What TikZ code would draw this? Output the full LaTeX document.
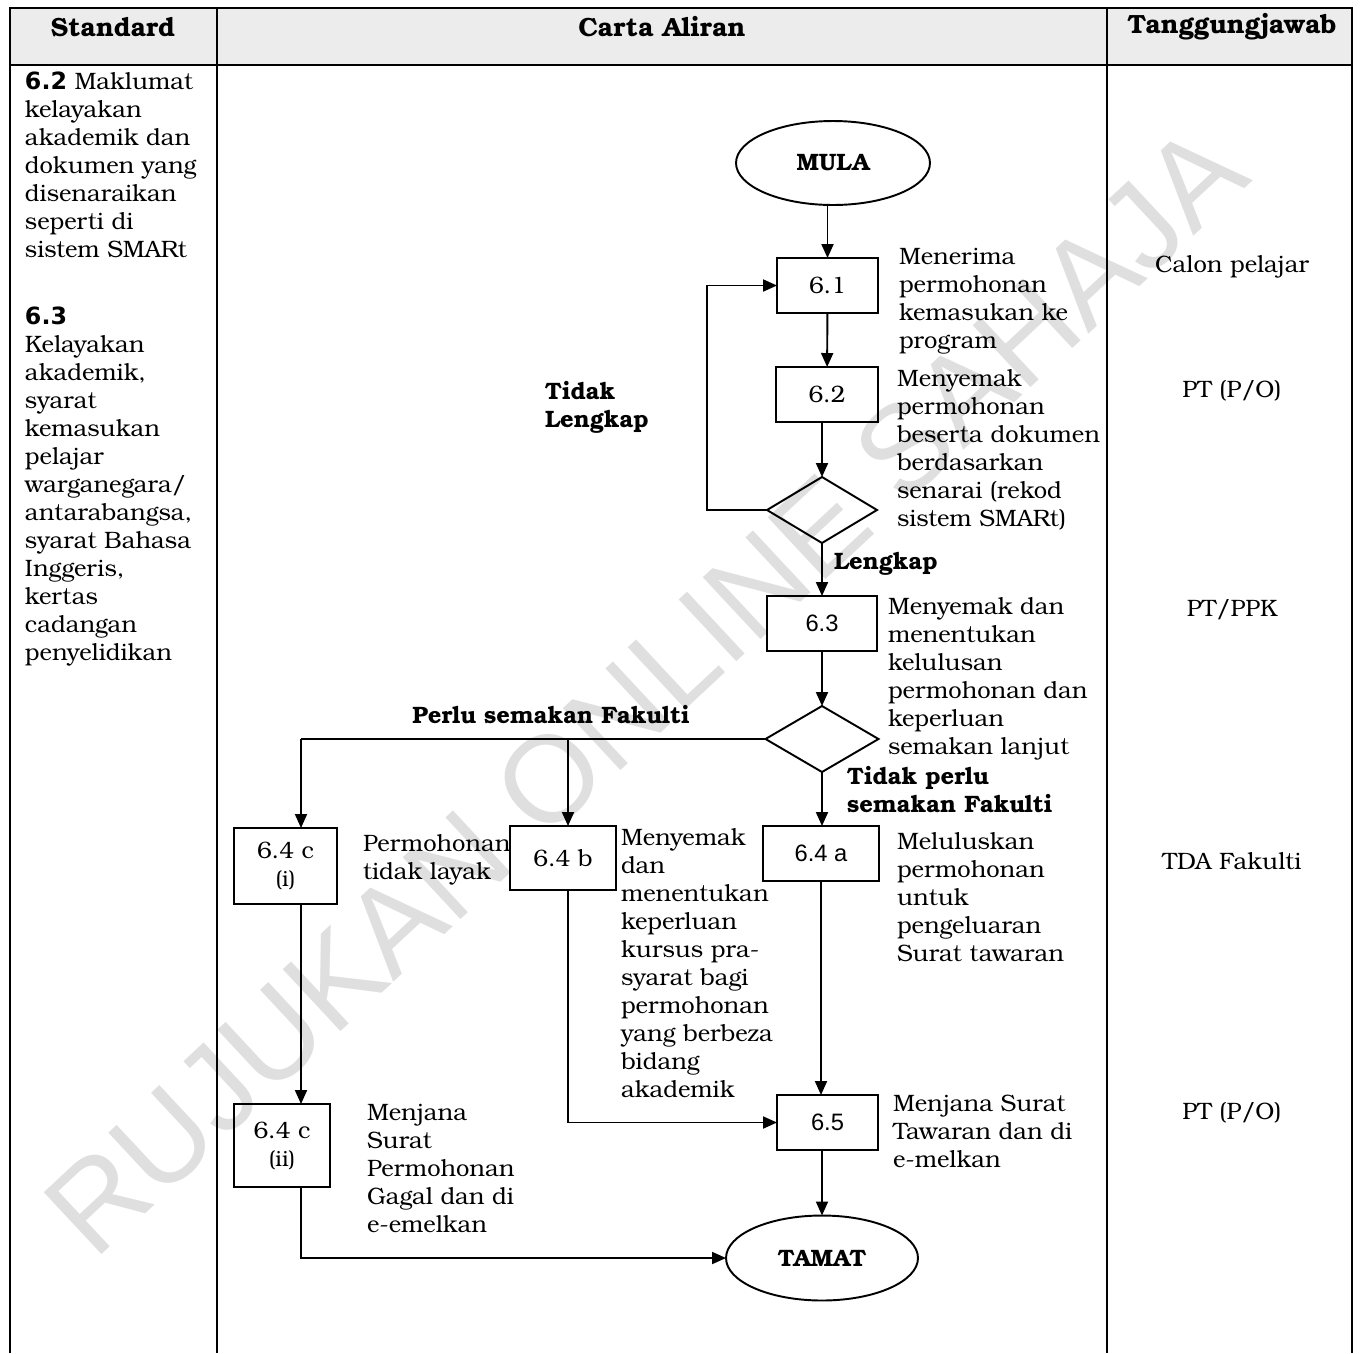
\documentclass[tikz,border=0pt]{standalone}
\usepackage{fontspec}
\setmainfont{TeX Gyre Bonum}
\newfontfamily\arialfont{Liberation Sans}
\newfontfamily\verdanafont{DejaVu Sans}
\usepackage{tikz}
\usetikzlibrary{arrows.meta, shapes.geometric}
\newcommand{\chartsize}{\fontsize{13.5}{15.94}\selectfont}

\begin{document}
\begin{tikzpicture}[x=0.02cm, y=-0.02cm,
   every node/.style={outer sep=0,inner sep=0},
   >={Triangle[length=2.8mm,width=2.4mm]},
   border/.style={line width=1.6pt},
   flow/.style={line width=1.1pt},
   stepbox/.style={draw,line width=1.1pt,font=\chartsize,align=center},
   terminal/.style={draw,ellipse,line width=1.1pt,font=\chartsize\bfseries,
      minimum width=3.88cm,minimum height=1.68cm},
   decision/.style={draw,diamond,line width=1.1pt,minimum width=2.2cm,
      minimum height=1.32cm},
   note/.style={anchor=north west,align=left,font=\chartsize},
   choice/.style={anchor=north west,align=left,font=\chartsize\bfseries},
   heading/.style={font=\fontsize{15}{18}\selectfont\bfseries},
   role/.style={font=\chartsize}]
   \useasboundingbox (0,0) rectangle (1362,1353);

   \node[rotate=43,text=gray!25,font=\arialfont\fontsize{70}{70}\selectfont]
   (watermark) at (645,690) {RUJUKAN ONLINE SAHAJA};

   % table
   \fill[gray!15] (10,8) rectangle (1352,65);
   \draw[border] (10,1353) |- (1352,8) -- (1352,1353);
   \draw[border] (10,65) -- (1352,65);
   \draw[border] (217,8) -- (217,1353);
   \draw[border] (1107,8) -- (1107,1353);
   \node[heading] (h-std) at (113,27) {Standard};
   \node[heading] (h-flow) at (662,27) {Carta Aliran};
   \node[heading] (h-role) at (1232,27) {Tanggungjawab};

   \node[note] (std-a) at (25,72) {{\verdanafont\bfseries 6.2} Maklumat\\
   kelayakan\\akademik dan\\dokumen yang\\disenaraikan\\seperti di\\
   sistem SMARt};
   \node[note] (std-b) at (25,307) {{\verdanafont\bfseries 6.3}\\Kelayakan\\
   akademik,\\syarat\\kemasukan\\pelajar\\warganegara/\\antarabangsa,\\
   syarat Bahasa\\Inggeris,\\kertas\\cadangan\\penyelidikan};

   \node[role] (r-calon) at (1232,267) {Calon pelajar};
   \node[role] (r-pt1) at (1232,391) {PT (P/O)};
   \node[role] (r-ppk) at (1232,610) {PT/PPK};
   \node[role] (r-tda) at (1232,861) {TDA Fakulti};
   \node[role] (r-pt2) at (1232,1113) {PT (P/O)};

   % flow chart
   \node[terminal] (mula) at (833,163) {MULA};
   \node[stepbox,minimum width=2.02cm,minimum height=1.1cm] (s61)
   at (827.5,285.5) {6.1};
   \node[stepbox,minimum width=2.04cm,minimum height=1.1cm] (s62)
   at (827,394.5) {6.2};
   \node[decision] (dec1) at (822,510) {};
   \node[stepbox,font=\arialfont\chartsize,minimum width=2.2cm,
   minimum height=1.1cm] (s63) at (822,623.5) {6.3};
   \node[decision,minimum width=2.26cm] (dec2) at (822,739) {};
   \node[stepbox,font=\arialfont\chartsize,minimum width=2.32cm,
   minimum height=1.1cm] (s64a) at (821,853.5) {6.4 a};
   \node[stepbox,minimum width=2.12cm,minimum height=1.28cm] (s64b)
   at (563,858) {6.4 b};
   \node[stepbox,minimum width=2.06cm,minimum height=1.52cm] (s64ci)
   at (285.5,866) {6.4 c\\{\fontsize{12.5}{14}\selectfont(i)}};
   \node[stepbox,minimum width=1.92cm,minimum height=1.66cm] (s64cii)
   at (282,1145.5) {6.4 c\\{\fontsize{12.5}{14}\selectfont(ii)}};
   \node[stepbox,font=\arialfont\chartsize,minimum width=2.02cm,
   minimum height=1.1cm] (s65) at (827.5,1122.5) {6.5};
   \node[terminal,minimum width=3.84cm,minimum height=1.7cm] (tamat)
   at (822,1258) {TAMAT};

   \node[note] (n61) at (899,248) {Menerima\\permohonan\\kemasukan ke\\
   program};
   \node[note] (n62) at (897,369) {Menyemak\\permohonan\\beserta dokumen\\
   berdasarkan\\senarai (rekod\\sistem SMARt)};
   \node[note] (n63) at (888,597) {Menyemak dan\\menentukan\\kelulusan\\
   permohonan dan\\keperluan\\semakan lanjut};
   \node[note] (n64a) at (897,832) {Meluluskan\\permohonan\\untuk\\
   pengeluaran\\Surat tawaran};
   \node[note] (n64b) at (621,828) {Menyemak\\dan\\menentukan\\keperluan\\
   kursus pra-\\syarat bagi\\permohonan\\yang berbeza\\bidang\\akademik};
   \node[note] (n64ci) at (363,834) {Permohonan\\tidak layak};
   \node[note] (n64cii) at (367,1104) {Menjana\\Surat\\Permohonan\\
   Gagal dan di\\e-emelkan};
   \node[note] (n65) at (893,1095) {Menjana Surat\\Tawaran dan di\\
   e-melkan};

   \node[choice] (c-tidak) at (545,381) {Tidak\\Lengkap};
   \node[choice] (c-lengkap) at (834,552) {Lengkap};
   \node[heading,font=\chartsize\bfseries] (c-perlu) at (551,715)
   {Perlu semakan Fakulti};
   \node[choice] (c-tidakperlu) at (847,766) {Tidak perlu\\semakan Fakulti};

   \coordinate (split-c) at (301,739);
   \coordinate (split-b) at (568,739);

   \draw[flow,->] (mula.south -| s61) -- (s61.north);
   \draw[flow,->] (s61) -- (s62);
   \draw[flow,->] (s62.south -| dec1) -- (dec1.north);
   \draw[flow,->] (dec1.west) -- ++(-60,0) |- (s61.west);
   \draw[flow,->] (dec1.south) -- (s63.north);
   \draw[flow,->] (s63.south -| dec2) -- (dec2.north);
   \draw[flow,->] (dec2.south) -- (dec2.south |- s64a.north);
   \draw[flow] (dec2.west) -- (split-c);
   \draw[flow,->] (split-c) -- (split-c |- s64ci.north);
   \draw[flow,->] (split-b) -- (split-b |- s64b.north);
   \draw[flow,->] (s64ci.south -| split-c) -- (s64cii.north -| split-c);
   \draw[flow,->] (s64cii.south -| split-c) |- (tamat.west);
   \draw[flow,->] (s64b.south -| split-b) |- (s65.west);
   \draw[flow,->] (s64a.south) -- (s64a.south |- s65.north);
   \draw[flow,->] (s65.south -| tamat) -- (tamat.north);

\end{tikzpicture}
\end{document}
